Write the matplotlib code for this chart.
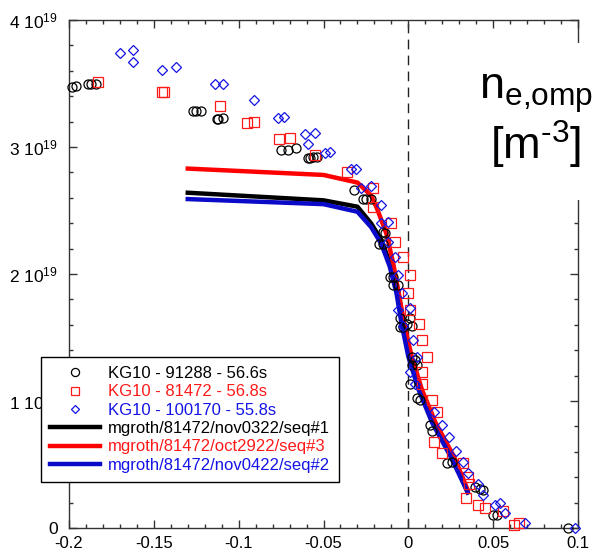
import matplotlib
matplotlib.use("Agg")
import matplotlib.pyplot as plt
from matplotlib.patches import Rectangle
from matplotlib.ticker import MultipleLocator, FixedLocator, FixedFormatter

plt.rcParams['font.family'] = ['Liberation Sans', 'DejaVu Sans']
plt.rcParams['mathtext.fontset'] = 'custom'
plt.rcParams['mathtext.rm'] = 'Liberation Sans'
plt.rcParams['mathtext.it'] = 'Liberation Sans'
plt.rcParams['mathtext.bf'] = 'Liberation Sans:bold'

# ---- data (density in units of 1e19 m^-3) ----
x_91288 = [-0.198, -0.196, -0.189, -0.187, -0.184, -0.127, -0.125, -0.122, -0.113, -0.112,
           -0.109, -0.075, -0.071, -0.066, -0.059, -0.058, -0.056, -0.054, -0.032, -0.027,
           -0.025, -0.022, -0.015, -0.0135, -0.017, -0.015, -0.011, -0.009, -0.009, -0.006,
           -0.005, 0.001, -0.005, -0.003, 0.002, -0.001, 0.002, 0.004, 0.002, 0.005,
           0.001, 0.005, 0.007, 0.013, 0.014, 0.023, 0.026, 0.039, 0.042, 0.044,
           0.050, 0.052, 0.094]
n_91288 = [3.47, 3.48, 3.50, 3.50, 3.50, 3.28, 3.28, 3.28, 3.22, 3.22,
           3.23, 2.98, 2.98, 2.99, 2.91, 2.91, 2.92, 2.92, 2.66, 2.59,
           2.59, 2.59, 2.33, 2.32, 2.24, 2.24, 1.98, 1.98, 1.91, 1.91,
           1.65, 1.65, 1.58, 1.58, 1.59, 1.61, 1.35, 1.32, 1.28, 1.28,
           1.13, 1.02, 1.01, 0.81, 0.76, 0.51, 0.52, 0.32, 0.31, 0.30,
           0.10, 0.10, 0.0]

x_81472 = [-0.183, -0.145, -0.144, -0.111, -0.095, -0.091, -0.076, -0.070, -0.055, -0.036,
           -0.021, -0.021, -0.010, -0.008, -0.003, 0.001, 0.000, 0.001, 0.006, 0.008,
           0.011, 0.008, 0.008, 0.014, 0.017, 0.015, 0.020, 0.032, 0.035, 0.036,
           0.034, 0.041, 0.045, 0.056, 0.062, 0.065]
n_81472 = [3.51, 3.43, 3.43, 3.32, 3.19, 3.20, 3.06, 3.07, 2.94, 2.80,
           2.68, 2.53, 2.40, 2.25, 2.13, 1.99, 1.85, 1.72, 1.61, 1.48,
           1.35, 1.23, 1.13, 1.01, 0.91, 0.68, 0.59, 0.51, 0.40, 0.35,
           0.24, 0.18, 0.16, 0.13, 0.02, 0.04]

x_100170 = [-0.170, -0.162, -0.162, -0.145, -0.137, -0.114, -0.109, -0.091, -0.077, -0.073,
            -0.061, -0.055, -0.059, -0.049, -0.046, -0.034, -0.031, -0.028, -0.022, -0.016,
            -0.016, -0.012, -0.012, -0.008, -0.006, -0.004, -0.006, 0.001, -0.003, 0.003,
            0.005, 0.001, 0.004, 0.015, 0.020, 0.024, 0.028, 0.032, 0.035, 0.041,
            0.044, 0.051, 0.054, 0.057, 0.069, 0.098]
n_100170 = [3.74, 3.76, 3.67, 3.61, 3.63, 3.50, 3.50, 3.37, 3.23, 3.24,
            3.10, 3.11, 3.02, 2.95, 2.96, 2.83, 2.83, 2.68, 2.69, 2.54,
            2.40, 2.41, 2.25, 2.13, 1.99, 1.85, 1.72, 1.73, 1.59, 1.48,
            1.35, 1.23, 1.13, 0.91, 0.81, 0.72, 0.61, 0.52, 0.43, 0.35,
            0.26, 0.18, 0.20, 0.12, 0.04, 0.0]

x_seq1 = [-0.13, -0.05, -0.03, -0.022, -0.016, -0.011, -0.006, -0.003, 0.001, 0.007, 0.015, 0.026, 0.035]
n_seq1 = [2.64, 2.58, 2.53, 2.40, 2.27, 2.09, 1.87, 1.61, 1.35, 1.09, 0.83, 0.56, 0.28]
x_seq3 = [-0.13, -0.05, -0.03, -0.022, -0.018, -0.013, -0.009, -0.005, -0.002, 0.002, 0.008, 0.016, 0.027, 0.035]
n_seq3 = [2.83, 2.78, 2.72, 2.62, 2.50, 2.32, 2.09, 1.80, 1.58, 1.35, 1.09, 0.83, 0.56, 0.30]
x_seq2 = [-0.13, -0.05, -0.03, -0.022, -0.016, -0.011, -0.007, -0.004, 0.0, 0.006, 0.014, 0.025, 0.035]
n_seq2 = [2.59, 2.55, 2.49, 2.37, 2.24, 2.06, 1.85, 1.61, 1.35, 1.09, 0.83, 0.56, 0.28]

labels = ['KG10 - 91288 - 56.6s', 'KG10 - 81472 - 56.8s', 'KG10 - 100170 - 55.8s',
          'mgroth/81472/nov0322/seq#1', 'mgroth/81472/oct2922/seq#3', 'mgroth/81472/nov0422/seq#2']
xtick_vals = [-0.2, -0.15, -0.1, -0.05, 0, 0.05, 0.1]
xtick_labels = ['-0.2', '-0.15', '-0.1', '-0.05', '0', '0.05', '0.1']
ytick_vals = [0, 1, 2, 3, 4]
ytick_labels = ['0', r'1 10$^{19}$', r'2 10$^{19}$', r'3 10$^{19}$', r'4 10$^{19}$']
quantity_label = 'n$_{\\text{e,omp}}$\n[m$^{\\text{-3}}$]'

BLACK = '#000000'
RED = '#ff1a1a'
BLUE = '#1414e6'
BLUE_LINE = '#0a0ac8'

fig = plt.figure(figsize=(6.0, 5.58), dpi=100)
ax = fig.add_axes([69/600, 1-528/558, 509/600, 508/558])

ax.axvline(0, color='#222222', lw=1.0, dashes=(7, 4.5), zorder=1)

h1, = ax.plot(x_91288, n_91288, 'o', ms=6.5, mfc='none', mec=BLACK, mew=0.9, clip_on=False, zorder=3)
h2, = ax.plot(x_81472, n_81472, 's', ms=6.5, mfc='none', mec=RED, mew=0.9, clip_on=False, zorder=3)
h3, = ax.plot(x_100170, n_100170, 'D', ms=4.8, mfc='none', mec=BLUE, mew=0.9, clip_on=False, zorder=3)
l1, = ax.plot(x_seq1, n_seq1, '-', color=BLACK, lw=3.2, zorder=2)
l2, = ax.plot(x_seq3, n_seq3, '-', color='#ff0000', lw=3.2, zorder=2)
l3, = ax.plot(x_seq2, n_seq2, '-', color=BLUE_LINE, lw=3.2, zorder=2.1)

ax.set_xlim(-0.2, 0.1)
ax.set_ylim(0, 4)
ax.xaxis.set_major_locator(FixedLocator(xtick_vals))
ax.xaxis.set_major_formatter(FixedFormatter(xtick_labels))
ax.xaxis.set_minor_locator(MultipleLocator(0.01))
ax.yaxis.set_major_locator(FixedLocator(ytick_vals))
ax.yaxis.set_major_formatter(FixedFormatter(ytick_labels))
ax.yaxis.set_minor_locator(MultipleLocator(0.2))
ax.tick_params(which='both', direction='in', top=True, right=True, color='#333333', width=1.0)
ax.tick_params(which='major', length=6, labelsize=12, pad=6)
ax.tick_params(axis='y', which='major', labelsize=12.5, pad=8)
ax.tick_params(which='minor', length=3)
for s in ax.spines.values():
    s.set_color('#333333')
    s.set_linewidth(1.0)

leg = ax.legend([h1, h2, h3, l1, l2, l3], labels, loc='lower left',
                bbox_to_anchor=(41/600, 1-482/558), bbox_transform=fig.transFigure,
                borderaxespad=0, frameon=True, fancybox=False, framealpha=1,
                edgecolor='black', fontsize=12, handlelength=3.0, handletextpad=0.45,
                labelspacing=0.2, borderpad=0.55, markerscale=0.9)
leg.get_frame().set_linewidth(1.0)
for t, c in zip(leg.get_texts(), [BLACK, RED, BLUE, BLACK, RED, BLUE]):
    t.set_color(c)
leg.set_zorder(5)

# white block hiding the right spine behind the label
fig.add_artist(Rectangle((470/600, 1-200/558), 130/600, 157/558, transform=fig.transFigure,
                         facecolor='white', edgecolor='none', zorder=1))
fig.text(536/600, 1-72/558, quantity_label, fontsize=32.5, ha='center', va='top',
         linespacing=1.1, multialignment='center', zorder=2)

fig.savefig('out.png', dpi=100)
